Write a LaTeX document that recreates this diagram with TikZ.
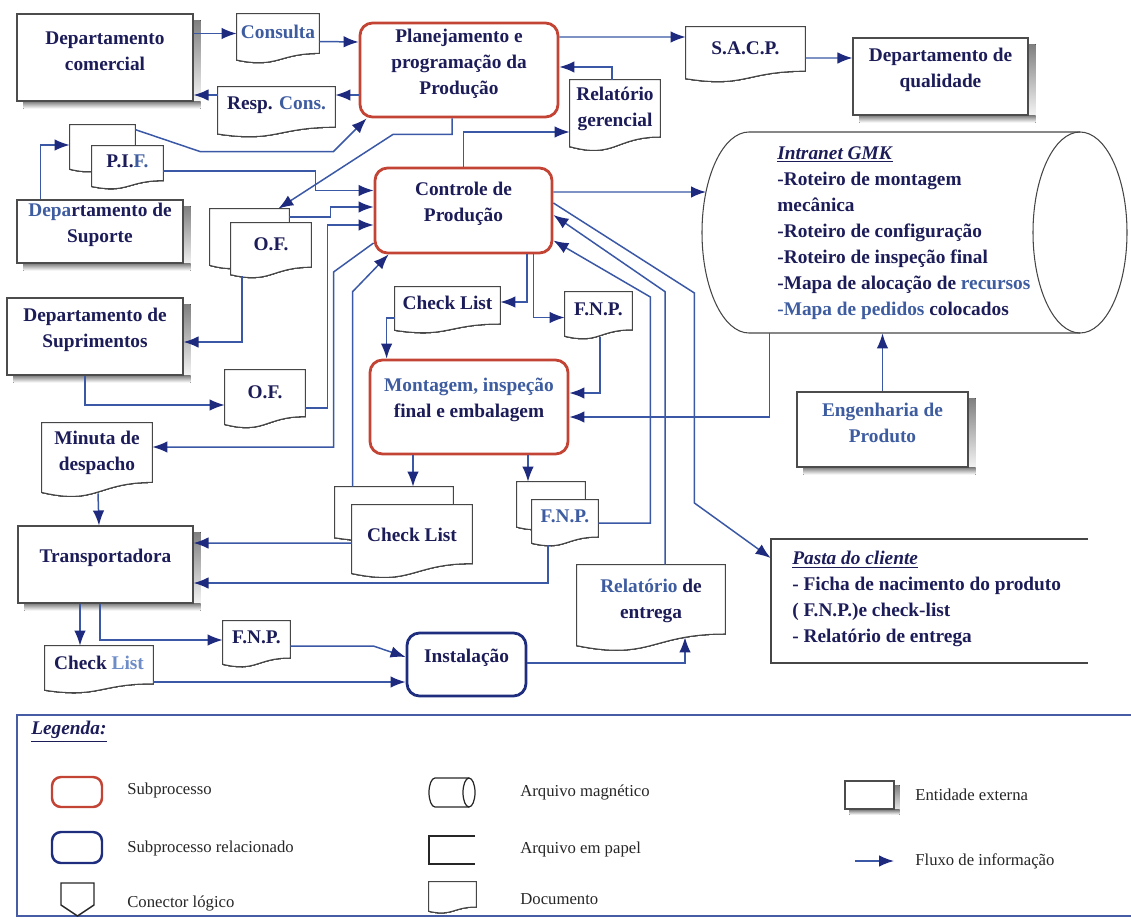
\documentclass[tikz,border=0pt]{standalone}
\usepackage{fontspec}
\setmainfont{Liberation Serif}
\usepackage{xcolor}
\usepackage{tikz}
\usetikzlibrary{arrows.meta,fit,calc,backgrounds}
\definecolor{ink}{RGB}{28,28,88}
\definecolor{txtblue}{RGB}{62,92,160}
\definecolor{lightblue}{RGB}{110,140,200}
\definecolor{flowc}{RGB}{58,88,165}
\definecolor{tipc}{RGB}{30,42,125}
\definecolor{subred}{RGB}{195,68,52}
\definecolor{subblue}{RGB}{30,45,125}
\definecolor{docgray}{RGB}{70,70,70}
\definecolor{legframe}{RGB}{70,92,165}
\definecolor{shade}{RGB}{185,185,185}

% contorno de documento (base ondulada)
\newcommand{\docline}[1]{%
  \path[docln] let \p1=(#1.north west), \p2=(#1.south east) in
    (\p1) -- (\x2,\y1) -- (\x2,{\y1+0.8*(\y2-\y1)})
    .. controls ({0.5*(\x1+\x2)},{\y1+0.8*(\y2-\y1)})
           and ({0.5*(\x1+\x2)},{\y1+1.108*(\y2-\y1)})
    .. (\x1,{\y1+0.934*(\y2-\y1)}) -- cycle;}
% sombra das entidades externas (faixa direita e faixa inferior)
\newcommand{\entshadow}[2]{%
  \fill[shade] ($(#1.north east)+(0,#2)$) rectangle ($(#1.south east)+(#2,#2)$);
  \fill[shade] ($(#1.south west)+(#2,0)$) rectangle ($(#1.south east)+(#2,#2)$);}

\begin{document}
\begin{tikzpicture}[x=0.2mm,y=-0.2mm,
  every node/.style={text=ink},
  txt/.style={font=\fontsize{11}{14.8}\selectfont\bfseries},
  ent/.style={txt,draw=black!70,line width=0.6pt,fill=white,inner sep=0pt,align=center},
  sub/.style={txt,draw=subred,line width=1.6pt,rounded corners=2.5mm,fill=white,inner sep=0pt,align=center},
  rel/.style={sub,draw=subblue},
  doc/.style={txt,inner sep=0pt,align=center},
  docln/.style={draw=docgray,line width=0.6pt,fill=white},
  flow/.style={draw=flowc,line width=0.85pt,-{Latex[length=3mm,width=2.3mm,color=tipc]}},
  legtxt/.style={font=\fontsize{9.5}{11}\selectfont,text=black!85,anchor=west,inner sep=0pt}]

\useasboundingbox (0,0) rectangle (1131,919);

% entidades externas
\node[ent,fit={(17,14) (193,101)}] (comercial) {Departamento\\comercial};
\node[ent,fit={(853,38) (1028,115)}] (qualidade) {Departamento de\\qualidade};
\node[ent,fit={(17,200) (183,263)}] (suporte) {{\color{txtblue}Depa}rtamento de\\Suporte};
\node[ent,fit={(7,298) (183,375)}] (suprim) {Departamento de\\Suprimentos};
\node[ent,fit={(18,526) (193,603)}] (transp) {Transportadora};
\node[ent,fit={(797,392) (968,467)},text=txtblue] (engenh) {Engenharia de\\Produto};

% subprocessos
\node[sub,fit={(360,23) (558,117)}] (planej) {Planejamento e\\programação da\\Produção};
\node[sub,fit={(375,168) (552,253)}] (ctrl) {Controle de\\Produção};
\node[sub,fit={(370,360) (568,454)}] (montag) {{\color{txtblue}Montagem, inspeção}\\final e embalagem};
\node[rel,fit={(407,633) (526,696)}] (instal) {Instalação};

% documentos
\node[doc,fit={(237,14) (319,63)},text=txtblue] (consulta) {Consulta};
\node[doc,fit={(218,87) (335,137)}] (respcons) {Resp. {\color{txtblue}Cons.}};
\node[doc,fit={(70,125) (135,172)}] (pifb) {};
\node[doc,fit={(92,146) (163,189)}] (pif) {P.I.{\color{txtblue}F.}};
\node[doc,fit={(210,209) (289,269)}] (ofb) {};
\node[doc,fit={(231,223) (311,278)}] (of) {O.F.};
\node[doc,fit={(225,370) (305,428)}] (of2) {O.F.};
\node[doc,fit={(42,423) (152,497)}] (minuta) {Minuta de\\despacho};
\node[doc,fit={(395,287) (500,333)}] (chk) {Check List};
\node[doc,fit={(565,292) (632,339)}] (fnp) {F.N.P.};
\node[doc,fit={(335,487) (453,541)}] (chkb) {};
\node[doc,fit={(352,505) (472,578)}] (chk2) {Check List};
\node[doc,fit={(517,482) (585,530)}] (fnpb) {};
\node[doc,fit={(532,500) (598,546)},text=txtblue] (fnp2) {F.N.P.};
\node[doc,fit={(570,80) (660,151)}] (relger) {Relatório\\gerencial};
\node[doc,fit={(686,27) (805,82)}] (sacp) {S.A.C.P.};
\node[doc,fit={(577,565) (725,651)}] (relent) {{\color{txtblue}Relatório} de\\entrega};
\node[doc,fit={(223,621) (290,667)}] (fnp3) {F.N.P.};
\node[doc,fit={(45,646) (153,693)}] (chk3) {Check {\color{lightblue}List}};

% arquivo magnetico
\node[fit={(702,132) (1127,333)},inner sep=0pt] (gmk) {};
\draw[docgray,line width=0.6pt] (749,132) -- (1080,132) (749,333) -- (1080,333)
  (749,132) .. controls (723,132) and (702,177) .. (702,232.5)
  .. controls (702,288) and (723,333) .. (749,333);
\draw[docgray,line width=0.6pt] (1080,232.5) ellipse [x radius=9.4mm,y radius=20.1mm];
\node[txt,anchor=north west,align=left,inner sep=0pt] (gmktxt) at (777,146)
  {\underline{\textit{Intranet GMK}}\\-Roteiro de montagem\\mecânica\\-Roteiro de configuração\\
   -Roteiro de inspeção final\\-Mapa de alocação de {\color{txtblue}recursos}\\
   {\color{txtblue}-Mapa de pedidos} colocados};
\coordinate (gmkin) at (706,192);

% arquivo em papel
\node[fit={(771,539) (1088,663)},inner sep=0pt] (pasta) {};
\draw[docgray,line width=0.7pt] (1088,539) -- (771,539) -- (771,663) -- (1088,663);
\node[txt,anchor=north west,align=left,inner sep=0pt] (pastatxt) at (792,551)
  {\underline{\textit{Pasta do cliente}}\\- Ficha de nacimento do produto\\( F.N.P.)e check-list\\- Relatório de entrega};

% legenda
\draw[legframe,line width=1.2pt] (1131,715) -- (17,715) -- (17,916) -- (1131,916);
\node[anchor=west,inner sep=0pt,font=\fontsize{11}{13}\selectfont\bfseries] (legtit) at (31,732) {\underline{\textit{Legenda:}}};
\node[sub,line width=1.4pt,rounded corners=1.8mm,fit={(52,777) (102,807)}] (lsub) {};
\node[rel,line width=1.4pt,rounded corners=1.8mm,fit={(52,832) (102,863)}] (lrel) {};
\draw[black!85,line width=0.8pt] (61,883) -- (94,883) -- (94,905) -- (77.5,916) -- (61,905) -- cycle;
\draw[black!85,line width=0.7pt] (435,778) -- (469,778) (435,807) -- (469,807)
  (435,778) .. controls (431.7,778) and (429,784.5) .. (429,792.5)
  .. controls (429,800.5) and (431.7,807) .. (435,807);
\draw[black!85,line width=0.7pt] (469,792.5) ellipse [x radius=1.2mm,y radius=2.9mm];
\draw[black!85,line width=0.7pt] (475,836) -- (429,836) -- (429,864) -- (475,864);
\node[doc,fit={(429,882) (476,913)}] (ldoc) {};
\node[ent,line width=0.8pt,fit={(845,781) (894,809)}] (lent) {};
\coordinate (lfa) at (855,861);
\coordinate (lfb) at (894,861);
\draw[flow] (lfa) -- (lfb);
\node[legtxt] (lt1) at (127,790) {Subprocesso};
\node[legtxt] (lt2) at (127,848) {Subprocesso relacionado};
\node[legtxt] (lt3) at (127,903) {Conector lógico};
\node[legtxt] (lt4) at (520,792) {Arquivo magnético};
\node[legtxt] (lt5) at (520,849) {Arquivo em papel};
\node[legtxt] (lt6) at (520,899) {Documento};
\node[legtxt] (lt7) at (915,795) {Entidade externa};
\node[legtxt] (lt8) at (915,861) {Fluxo de informação};

\begin{pgfonlayer}{background}
  \foreach \e in {comercial,qualidade,suporte,suprim,transp,engenh}
    \entshadow{\e}{7}
  \entshadow{lent}{5}
  \foreach \d in {consulta,respcons,pifb,pif,ofb,of,of2,minuta,chk,fnp,chkb,chk2,
                  fnpb,fnp2,relger,sacp,relent,fnp3,chk3,ldoc}
    \docline{\d};
\end{pgfonlayer}

% fluxos de informacao
\draw[flow] ($(comercial.east)+(0,-24)$) -- ($(consulta.west)+(0,-5)$);
\draw[flow] ($(consulta.east)+(0,3)$) -- ($(planej.west)+(0,-28)$);
\draw[flow] ($(planej.west)+(0,25)$) -- ($(respcons.east)+(0,-17)$);
\draw[flow] ($(respcons.west)+(0,-17)$) -- ($(comercial.east)+(0,37.5)$);
\draw[flow] ($(planej.east)+(0,-33)$) -- ($(sacp.west)+(0,-17.5)$);
\draw[flow] ($(sacp.east)+(0,3.5)$) -- ($(qualidade.west)+(0,-18.5)$);
\draw[flow] ($(relger.north)+(-3,0)$) |- ($(planej.east)+(0,-3)$);
\draw[flow] (ctrl.north) |- ($(relger.west)+(0,16.5)$);
\draw[flow] ($(pifb.north east)+(0,5)$) -- ++(65,22) -- ++(133,0) -- ($(planej.south west)+(8,0)$);
\draw[flow] ($(planej.south)+(-7,0)$) -- ++(0,16) -- ++(-59,0) -- ($(ofb.north east)+(-11,0)$);
\draw[flow] ($(pif.east)+(0,3.5)$) -- ++(152,0) |- ($(ctrl.west)+(0,-20)$);
\draw[flow] ($(ofb.east)+(0,-22)$) -- ++(41,0) |- ($(ctrl.west)+(0,-3.5)$);
\draw[flow] ($(of2.east)+(0,9)$) -- ++(22,0) |- ($(ctrl.west)+(0,14.5)$);
\draw[flow] ($(of.south)+(-29,-2)$) |- ($(suprim.east)+(0,5.5)$);
\draw[flow] ($(suprim.south)+(-10,0)$) |- ($(of2.west)+(0,6)$);
\draw[flow] ($(suporte.north west)+(24,0)$) |- ($(pifb.west)+(0,-3.5)$);
\draw[flow] ($(ctrl.west)+(0,32.5)$) -- ++(-40,29) |- ($(minuta.east)+(0,-13)$);
\draw[flow] ($(chkb.north west)+(18,0)$) -- ++(0,-195) -- ($(ctrl.south west)+(15,0)$);
\draw[flow] ($(chk2.west)+(0,1.5)$) -- ($(transp.east)+(0,-21.5)$);
\draw[flow] ($(fnp2.south)+(-17,-1)$) |- ($(transp.east)+(0,18.5)$);
\draw[flow] ($(montag.south)+(-56,0)$) -- ($(chkb.north)+(19,0)$);
\draw[flow] ($(montag.south)+(59,0)$) -- ($(fnpb.north)+(-23,0)$);
\draw[flow] ($(ctrl.south)+(63.5,0)$) |- ($(chk.east)+(0,-8)$);
\draw[flow] ($(ctrl.south)+(70,0)$) |- ($(fnp.west)+(0,2)$);
\draw[flow] ($(chk.west)+(0,8)$) -| ($(montag.north west)+(18,0)$);
\draw[flow] ($(fnp.south)+(1.5,-2)$) |- ($(montag.east)+(0,-14)$);
\draw[flow] ($(gmk.south west)+(68,0)$) |- ($(montag.east)+(0,10)$);
\draw[flow] (engenh.north) -- (engenh.north |- gmk.south);
\draw[flow] ($(ctrl.east)+(0,-18.5)$) -- (gmkin);
\draw[flow] ($(ctrl.east)+(0,-7.5)$) -- ++(141,90) -- ++(0,210) -- ($(pasta.west)+(0,-43)$);
\draw[flow] ($(relent.north)+(14,0)$) -- ++(0,-273) -- ($(ctrl.east)+(0,4.5)$);
\draw[flow] (fnp2.east) -- ++(52,0) -- ++(0,-226) -- ($(ctrl.east)+(0,30)$);
\draw[flow] ($(transp.south)+(-25.5,0)$) -- ($(chk3.north)+(-19,0)$);
\draw[flow] ($(transp.south)+(-5.5,0)$) |- ($(fnp3.west)+(0,-4)$);
\draw[flow] ($(fnp3.east)+(0,2)$) -- ++(83,0) -- ($(instal.west)+(0,-7.5)$);
\draw[flow] ($(chk3.east)+(0,12.5)$) -- ($(instal.west)+(0,17.5)$);
\draw[flow] ($(instal.east)+(0,-1.5)$) -| ($(relent.south)+(34,-14)$);
\draw[flow] ($(minuta.south)+(1,-4)$) -- ($(transp.north)+(-6.5,0)$);
\end{tikzpicture}
\end{document}
